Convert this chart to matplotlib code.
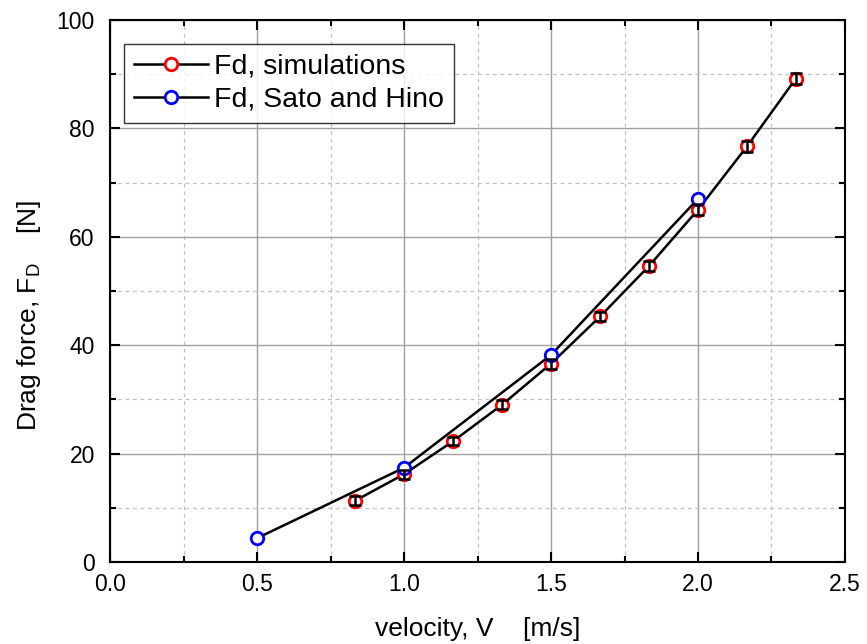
import matplotlib
matplotlib.use("Agg")
import matplotlib.pyplot as plt
from matplotlib.ticker import MultipleLocator, FormatStrFormatter

plt.rcParams['font.family'] = ['Liberation Sans', 'DejaVu Sans']

sim_v = [0.833, 1.0, 1.167, 1.333, 1.5, 1.667, 1.833, 2.0, 2.167, 2.333]
sim_f = [11.3, 16.2, 22.3, 29.0, 36.6, 45.3, 54.6, 65.0, 76.7, 89.2]
sim_err = [0.8, 0.8, 0.8, 0.8, 0.9, 0.9, 0.9, 1.0, 1.0, 1.1]

sato_v = [0.5, 1.0, 1.5, 2.0]
sato_f = [4.4, 17.4, 38.2, 67.0]

fig = plt.figure(figsize=(8.67, 6.44), dpi=100)
ax = fig.add_axes([0.127, 0.1273, 0.8476, 0.8417])

ax.plot(sim_v, sim_f, color='black', lw=1.8, marker='o', ms=9, mfc='white',
        mec='red', mew=2.0, label='Fd, simulations', zorder=3)
ax.errorbar(sim_v, sim_f, yerr=sim_err, fmt='none', ecolor='black', elinewidth=1.8,
            capsize=4, capthick=1.8, zorder=4)
ax.plot(sato_v, sato_f, color='black', lw=1.8, marker='o', ms=9, mfc='white',
        mec='blue', mew=2.0, label='Fd, Sato and Hino', zorder=3)

ax.set_xlim(0, 2.5)
ax.set_ylim(0, 100)
ax.xaxis.set_major_locator(MultipleLocator(0.5))
ax.xaxis.set_minor_locator(MultipleLocator(0.25))
ax.yaxis.set_major_locator(MultipleLocator(20))
ax.yaxis.set_minor_locator(MultipleLocator(10))
ax.xaxis.set_major_formatter(FormatStrFormatter('%.1f'))

ax.grid(which='major', color='#a0a0a0', lw=1.0, ls='-')
ax.grid(which='minor', color='#c0c0c0', lw=0.9, ls=(0, (3, 3)))
ax.set_axisbelow(True)

ax.tick_params(which='both', direction='in', top=True, right=True, labelsize=16.5, width=1.5)
ax.tick_params(which='major', length=7)
ax.tick_params(axis='x', which='major', pad=8)
ax.tick_params(axis='y', which='major', pad=11)
ax.tick_params(which='minor', length=4)
for s in ax.spines.values():
    s.set_linewidth(1.5)

ax.set_xlabel('velocity, V    [m/s]', fontsize=19, labelpad=15)
ax.set_ylabel('Drag force, F$_\\mathregular{D}$    [N]', fontsize=19, labelpad=10, y=0.456)

leg = ax.legend(loc='upper left', bbox_to_anchor=(0.019, 0.956), fontsize=20.5,
                frameon=True, fancybox=False, edgecolor='black', borderpad=0.35,
                handlelength=2.6, handletextpad=0.2, labelspacing=0.25, borderaxespad=0.0)
leg.get_frame().set_linewidth(1.0)

fig.savefig('out.png', dpi=100)
